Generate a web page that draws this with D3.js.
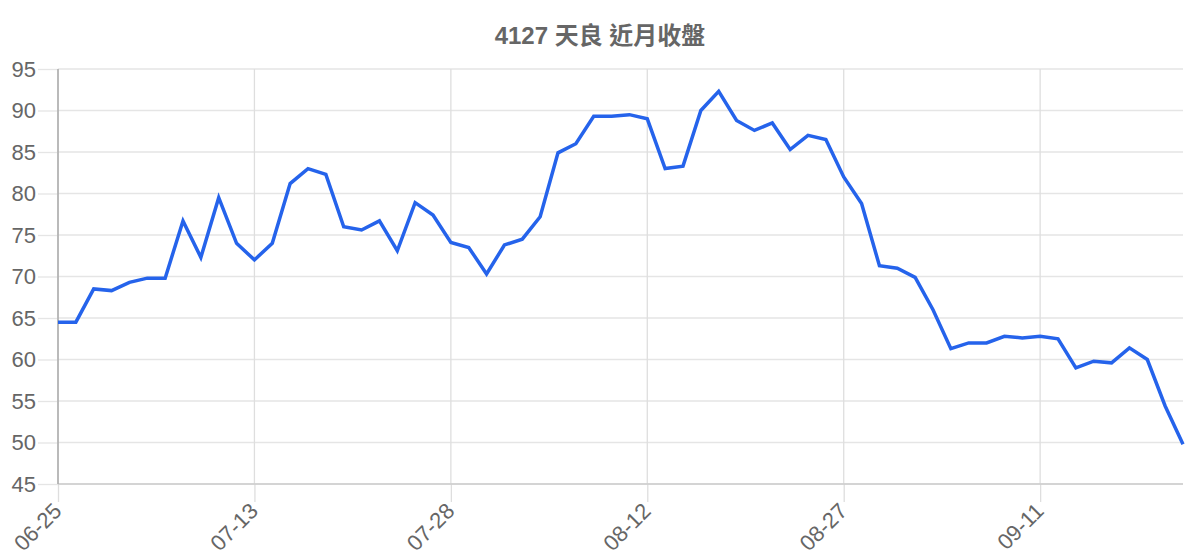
<!DOCTYPE html>
<html>
<head>
<meta charset="utf-8">
<script src="https://cdn.jsdelivr.net/npm/d3@7"></script>
<style>
  body { margin: 0; background: #fff; }
  svg text { font-family: "Liberation Sans", Arial, "Noto Sans CJK TC", sans-serif; }
</style>
</head>
<body>
<div id="chart"></div>
<script>
// 4127 天良 近月收盤
let chartTitle = "4127 天良 近月收盤";

let dates = ["06-25","06-29","06-30","07-01","07-02","07-03","07-06","07-07","07-08","07-09","07-10",
	"07-13","07-14","07-15","07-16","07-17","07-20","07-21","07-22","07-23","07-24","07-27",
	"07-28","07-29","07-30","07-31","08-03","08-04","08-05","08-06","08-07","08-10","08-11",
	"08-12","08-13","08-14","08-17","08-18","08-19","08-20","08-21","08-24","08-25","08-26",
	"08-27","08-28","08-31","09-01","09-02","09-03","09-04","09-07","09-08","09-09","09-10",
	"09-11","09-14","09-15","09-16","09-17","09-18","09-21","09-22","09-23"];

let closes = [64.5,64.5,68.5,68.3,69.3,69.8,69.8,76.7,72.3,79.5,74.0,
	72.0,74.0,81.2,83.0,82.3,76.0,75.6,76.7,73.1,78.9,77.4,
	74.1,73.5,70.3,73.8,74.5,77.2,84.9,86.0,89.3,89.3,89.5,
	89.0,83.0,83.3,90.0,92.3,88.8,87.6,88.5,85.3,87.0,86.5,
	82.0,78.8,71.3,71.0,69.9,66.0,61.3,62.0,62.0,62.8,62.6,
	62.8,62.5,59.0,59.8,59.6,61.4,60.0,54.4,49.8];

let tickDates = ["06-25","07-13","07-28","08-12","08-27","09-11"];
let yTicks = [45,50,55,60,65,70,75,80,85,90,95];

function drawChart(){
	let W = 1200, H = 560;
	let margin = {top: 69, right: 17, bottom: 76, left: 58};
	let width = W - margin.left - margin.right;
	let height = H - margin.top - margin.bottom;

	let svg = d3.select("#chart").append("svg")
		.attr("width", W)
		.attr("height", H);

	// title
	svg.append("text")
		.attr("x", W/2)
		.attr("y", 44)
		.attr("text-anchor", "middle")
		.style("font-size", "24px")
		.style("font-weight", "bold")
		.style("fill", "#666")
		.text(chartTitle);

	let x = d3.scalePoint()
		.domain(dates)
		.range([0, width]);

	let y = d3.scaleLinear()
		.domain([45, 95])
		.range([height, 0]);

	let g = svg.append("g")
		.attr("transform", "translate(" + margin.left + "," + margin.top + ")");

	// horizontal grid
	g.selectAll(".hgrid")
		.data(yTicks).enter().append("line")
		.attr("class", "hgrid")
		.attr("x1", 0).attr("x2", width)
		.attr("y1", d => y(d)).attr("y2", d => y(d))
		.attr("stroke", "#e5e5e5")
		.attr("stroke-width", 1.3);

	// vertical grid (only labelled dates)
	g.selectAll(".vgrid")
		.data(tickDates).enter().append("line")
		.attr("class", "vgrid")
		.attr("x1", d => x(d)).attr("x2", d => x(d))
		.attr("y1", 0).attr("y2", height)
		.attr("stroke", "#dedede")
		.attr("stroke-width", 1.3);

	// y axis
	let yAxis = g.append("g")
		.call(d3.axisLeft(y).tickValues(yTicks).tickSize(20).tickPadding(2));
	yAxis.select(".domain").remove();
	yAxis.selectAll(".tick line").attr("stroke", "#e5e5e5").attr("stroke-width", 1.3);
	yAxis.selectAll(".tick text")
		.style("font-size", "22px")
		.style("fill", "#666");

	// x axis
	let xAxis = g.append("g")
		.attr("transform", "translate(0," + height + ")")
		.call(d3.axisBottom(x).tickValues(tickDates).tickSize(18));
	xAxis.select(".domain").remove();
	xAxis.selectAll(".tick line").attr("stroke", "#dedede").attr("stroke-width", 1.3);
	xAxis.selectAll(".tick text")
		.style("font-size", "22px")
		.style("fill", "#666")
		.attr("text-anchor", "end")
		.attr("y", 0)
		.attr("dy", "0.35em")
		.attr("transform", "translate(-1,23) rotate(-45)");

	// axis lines
	g.append("line")
		.attr("x1", 0).attr("x2", width)
		.attr("y1", height).attr("y2", height)
		.attr("stroke", "#cccccc").attr("stroke-width", 1.5);
	g.append("line")
		.attr("x1", 0).attr("x2", 0)
		.attr("y1", 0).attr("y2", height)
		.attr("stroke", "#aaaaaa").attr("stroke-width", 1.5);

	// closing price line
	let line = d3.line()
		.x((d, i) => x(dates[i]))
		.y(d => y(d));

	g.append("path")
		.datum(closes)
		.attr("fill", "none")
		.attr("stroke", "#2563eb")
		.attr("stroke-width", 3.5)
		.attr("stroke-linejoin", "miter")
		.attr("d", line);
}

drawChart();
</script>
</body>
</html>
